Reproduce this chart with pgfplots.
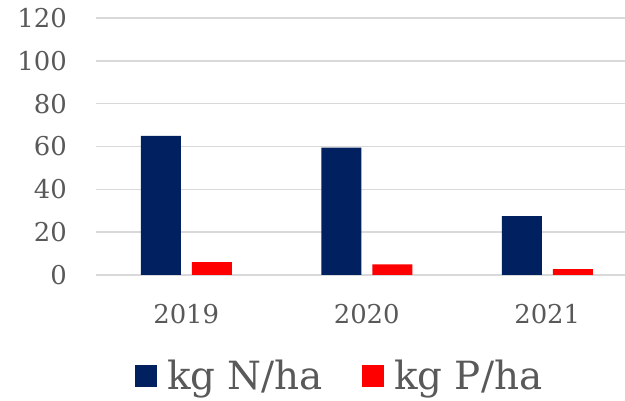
\documentclass[border=0pt]{standalone}
\usepackage{pgfplots}
\pgfplotsset{compat=1.18}
\usepackage{fontspec}
\setmainfont{DejaVu Serif}
\definecolor{navy}{HTML}{002060}
\definecolor{txt}{HTML}{595959}
\definecolor{grd}{HTML}{D9D9D9}
\begin{document}
\begin{tikzpicture}
\begin{axis}[
  at={(96bp,126bp)}, anchor=south west,
  scale only axis, width=541.5bp, height=257bp,
  xmin=-0.5, xmax=2.5, ymin=0, ymax=120,
  ybar=11bp, bar width=40bp,
  xtick={0,1,2}, xticklabels={2019,2020,2021},
  ytick={0,20,40,60,80,100,120},
  ymajorgrids, grid style={grd, line width=1.5bp},
  axis line style={draw=none},
  tick align=outside, tick pos=left,
  major tick length=0pt,
  xtick style={draw=none}, ytick style={draw=none},
  extra x ticks={-0.5,0.5,1.5,2.5}, extra x tick labels={},
  extra x tick style={major tick length=9bp, tick style={draw=grd, line width=1.5bp}, grid=none},
  /pgf/number format/assume math mode=true,
  ticklabel style={font=\fontsize{26}{30}\selectfont, text=txt},
  yticklabel style={inner sep=0pt, anchor=east, xshift=-29bp},
  xticklabel style={inner sep=0pt, anchor=north, yshift=-29bp},
  legend columns=2,
  legend style={at={(0.4575,-0.3895)}, anchor=center, draw=none, fill=none,
    font=\fontsize{39}{40}\selectfont, text=txt,
    nodes={inner xsep=10bp},
    /tikz/every even column/.append style={column sep=29bp}},
  legend image code/.code={\draw[#1,/tikz/.cd,draw=none] (0bp,-12bp) rectangle (22bp,10bp);},
]
\addplot[fill=navy, draw=none] coordinates {(0,65) (1,59.5) (2,27.5)};
\addplot[fill=red, draw=none] coordinates {(0,6) (1,5) (2,2.8)};
\legend{kg N/ha, kg P/ha}
\end{axis}
\pgfresetboundingbox
\path[use as bounding box] (0,0) rectangle (625bp,401bp);
\end{tikzpicture}
\end{document}
